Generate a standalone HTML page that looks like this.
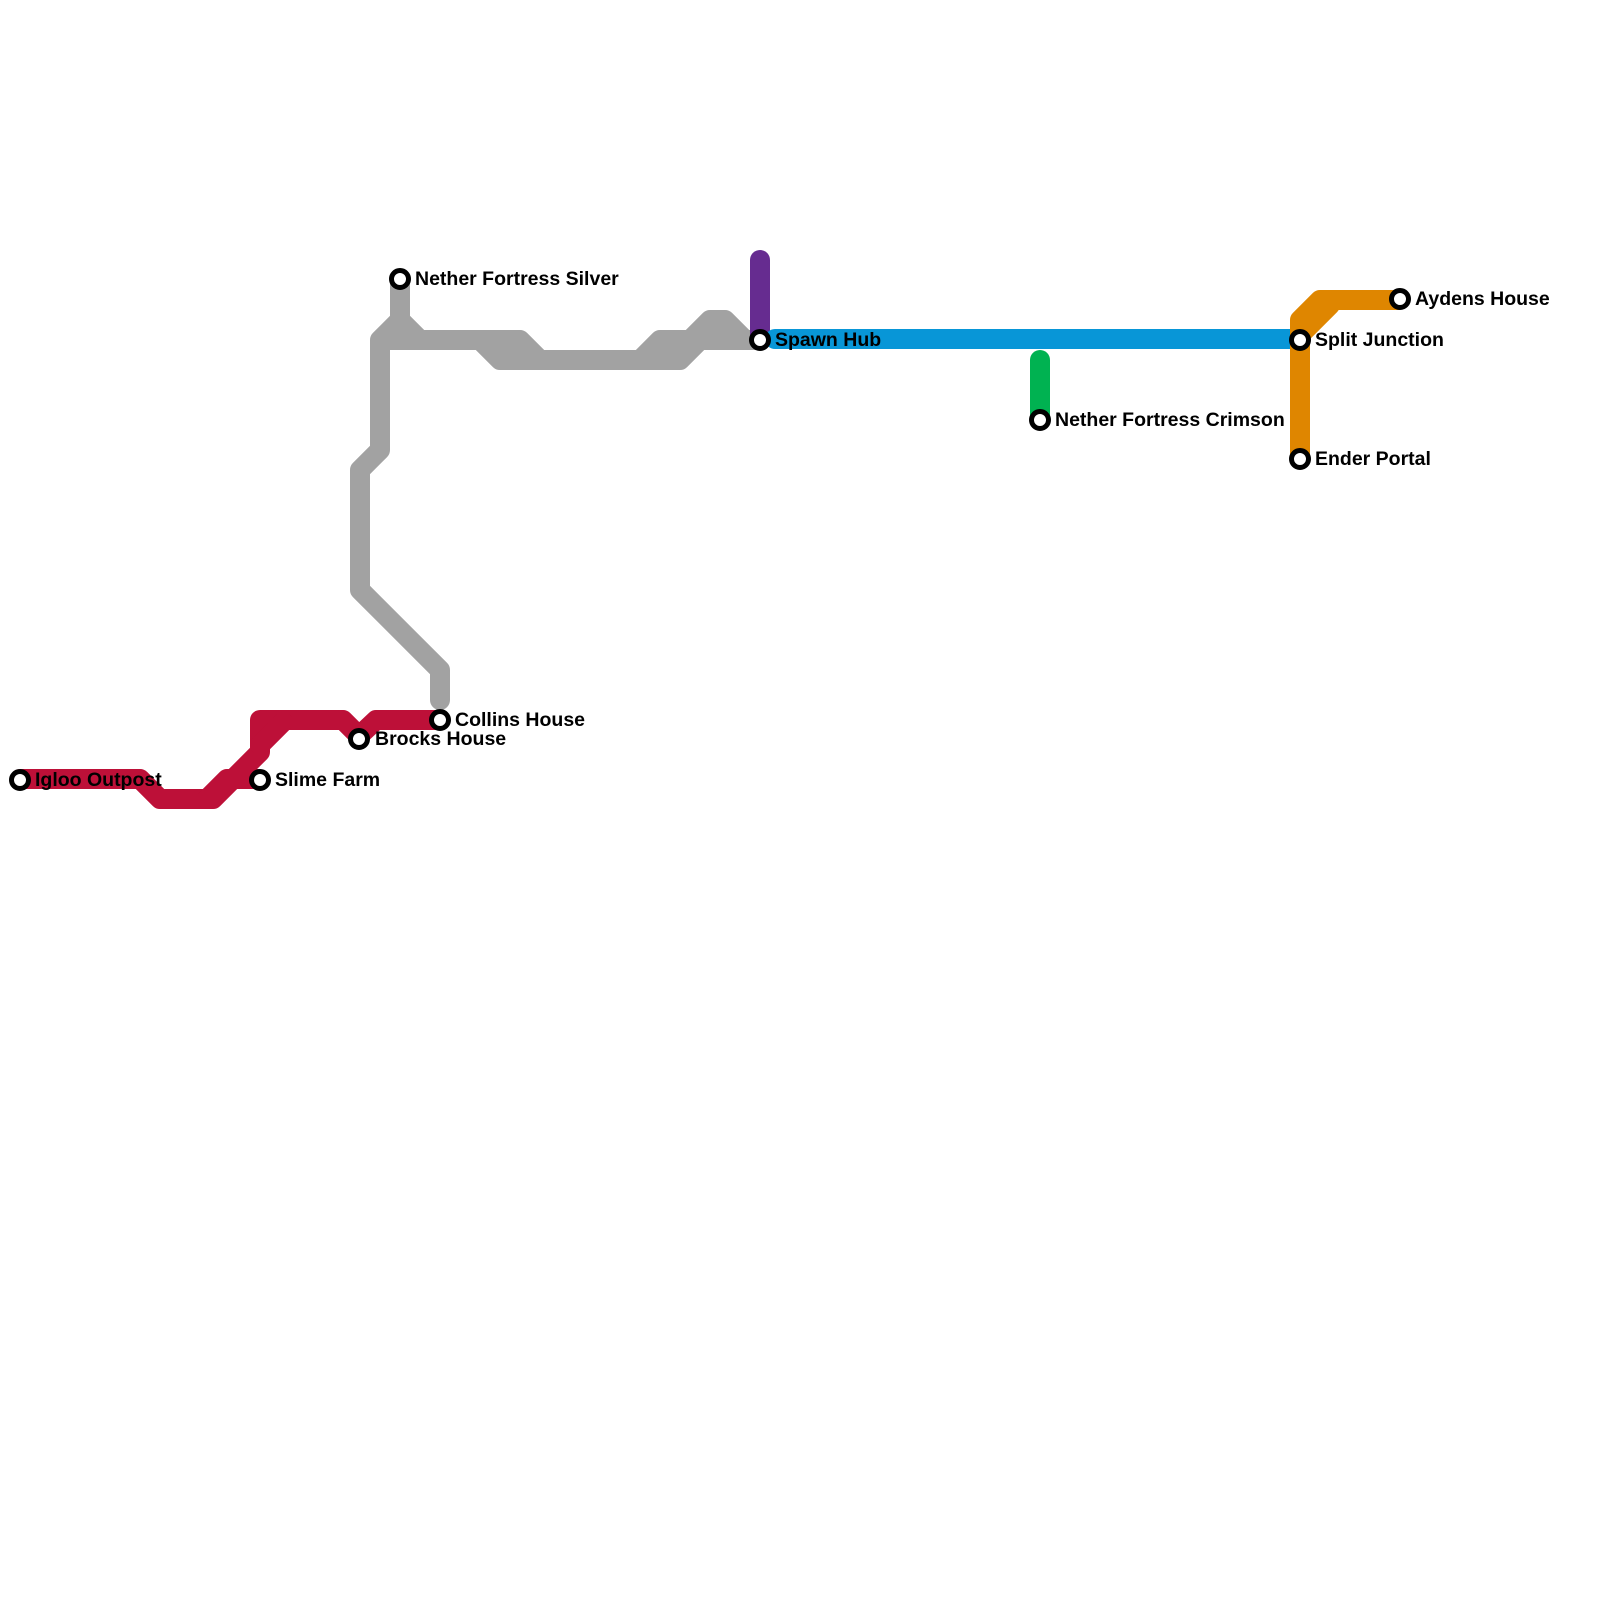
<!DOCTYPE html>
<html><head><meta charset="utf-8"><style>
html,body{margin:0;padding:0;background:#fff;width:1600px;height:1600px;overflow:hidden}
text{font-family:"Liberation Sans",sans-serif;font-weight:bold;font-size:19.5px;fill:#000}
</style></head><body>
<svg width="1600" height="1600" viewBox="0 0 1600 1600" xmlns="http://www.w3.org/2000/svg">
<g fill="none" stroke-width="20" stroke-linejoin="round" stroke-linecap="round">
<!-- grey -->
<g stroke="#a2a2a2">
<polyline points="400,279 400,320 380,340 380,450 360,470 360,590 440,670 440,700"/>
<polyline points="400,320 420,340 520,340 540,360 680,360 700,340 760,340"/>
<polyline points="390,340 480,340 500,360 640,360 660,340 690,340 710,320 725,320 745,340"/>
</g>
<!-- red -->
<g stroke="#bd1038">
<polyline points="20,779 140,779 160,799 213,799 260,752 260,720 343,720 359,736 376,720 440,720"/>
<polyline points="207,799 227,779 259,779"/>
<polyline points="260,745 283,722"/>
</g>
<polyline stroke="#662c90" points="760,260 760,339"/>
<polyline stroke="#0896d7" points="775,339 1290,339"/>
<polyline stroke="#00b251" points="1040,360 1040,420"/>
<g stroke="#df8600">
<polyline stroke-linecap="butt" points="1300,455 1300,320 1320,300 1400,300"/>
<polyline points="1300,335 1330,305"/>
</g>
</g>
<g fill="#fff" stroke="#000" stroke-width="5">
<circle cx="20" cy="780" r="8.5"/>
<circle cx="260" cy="780" r="8.5"/>
<circle cx="359" cy="739" r="8.5"/>
<circle cx="440" cy="720" r="8.5"/>
<circle cx="400" cy="279" r="8.5"/>
<circle cx="760" cy="340" r="8.5"/>
<circle cx="1040" cy="420" r="8.5"/>
<circle cx="1300" cy="340" r="8.5"/>
<circle cx="1400" cy="299" r="8.5"/>
<circle cx="1300" cy="459" r="8.5"/>
</g>
<text x="35" y="786">Igloo Outpost</text>
<text x="275" y="786">Slime Farm</text>
<text x="375" y="745">Brocks House</text>
<text x="455" y="726">Collins House</text>
<text x="415" y="285">Nether Fortress Silver</text>
<text x="775" y="346">Spawn Hub</text>
<text x="1055" y="426">Nether Fortress Crimson</text>
<text x="1315" y="346">Split Junction</text>
<text x="1415" y="305">Aydens House</text>
<text x="1315" y="465">Ender Portal</text>
</svg>
</body></html>
